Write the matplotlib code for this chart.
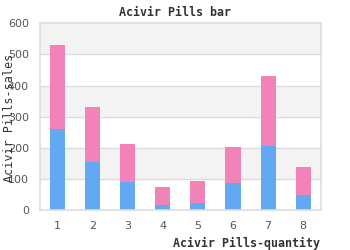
import matplotlib
matplotlib.use("Agg")
import matplotlib.pyplot as plt
import numpy as np

# data
quantity = [1, 2, 3, 4, 5, 6, 7, 8]
sales_low = [261, 155, 91, 17, 23, 86, 206, 49]
sales_total = [530, 331, 213, 75, 94, 203, 431, 139]
sales_high = [t - l for t, l in zip(sales_total, sales_low)]
y_ticks = [0, 100, 200, 300, 400, 500, 600]

blue = "#62a8f3"
pink = "#f283b9"
grid_col = "#dddddd"
mono = "DejaVu Sans Mono"

fig = plt.figure(figsize=(3.5, 2.5), dpi=100)
ax = fig.add_axes([40 / 350, 1 - 210.3 / 250, 280.7 / 350, 187 / 250])

# alternating bands
for lo in (100, 300, 500):
    ax.axhspan(lo, lo + 100, color="#f3f3f3", zorder=0, lw=0)
for t in y_ticks[1:-1]:
    ax.axhline(t, color=grid_col, lw=1, zorder=1)

ax.bar(quantity, sales_low, width=0.43, color=blue, zorder=2)
ax.bar(quantity, sales_high, width=0.43, bottom=sales_low, color=pink, zorder=2)

ax.set_xlim(0.5, 8.5)
ax.set_ylim(0, 600)
ax.set_xticks(quantity)
ax.set_yticks(y_ticks)
ax.tick_params(length=0, labelsize=8, colors="#555555", pad=8)
for s in ax.spines.values():
    s.set_color(grid_col)
    s.set_linewidth(1.2)

fig.text(0.5, 1 - 13 / 250, "Acivir Pills bar", family=mono, weight="bold",
         fontsize=8.4, color="#333333", ha="center", va="center")
fig.text(10 / 350, 1 - 118 / 250, "Acivir Pills-sales", family=mono,
         fontsize=8.5, color="#333333", rotation=90, ha="center", va="center")
fig.text(320 / 350, 1 - 243 / 250, "Acivir Pills-quantity", family=mono,
         weight="bold", fontsize=8.4, color="#333333", ha="right", va="center")

fig.savefig("out.png", dpi=100)
